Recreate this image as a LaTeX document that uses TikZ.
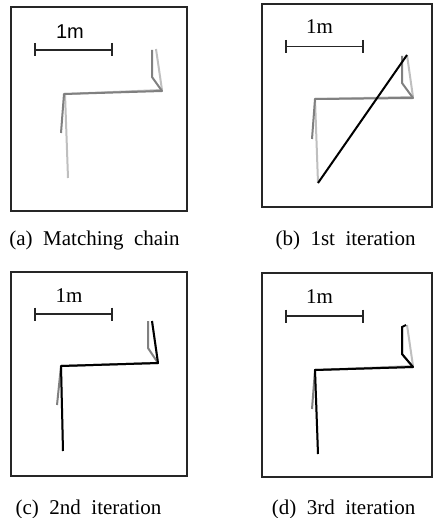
\documentclass[tikz,border=0pt]{standalone}
\usepackage{fontspec}
\setmainfont{Liberation Serif}
\newfontfamily\helv{Liberation Sans}
\tikzset{
  frame/.style={draw=black!85, line width=1.9pt},
  bar/.style={draw=black!85, line width=1.8pt},
  darkch/.style={draw=black!50, line width=2pt, line join=round},
  lightch/.style={draw=black!25, line width=2pt, line join=round},
  blackch/.style={draw=black, line width=2pt, line join=round},
  captext/.style={anchor=base, inner sep=0pt, font=\fontsize{21}{24}\selectfont},
  scaletext/.style={inner sep=0pt, font=\fontsize{21}{24}\selectfont}
}
\newcommand\wsp{\hspace{0.5em}}
\begin{document}
\begin{tikzpicture}[x=1pt,y=-1pt]
\useasboundingbox (0,0) rectangle (433,518);
% ---------- (a)
\draw[frame] (11,7) rectangle (187,211);
\draw[bar] (35,43) -- (35,56) (35,50) -- (112,50) (112,43) -- (112,56);
\node[scaletext, font=\helv\fontsize{20}{24}\selectfont] (ta) at (70,32) {1m};
\draw[lightch] (68,178) -- (65,94) -- (162,90) -- (156,49);
\draw[darkch] (61,133) -- (64,94) -- (162,91) -- (152,77) -- (152,50);
\node[captext] (ca) at (94.5,245) {(a)\wsp Matching\wsp chain};
% ---------- (b)
\draw[frame] (262,4) rectangle (432,207);
\draw[bar] (286,40) -- (286,53) (286,46.5) -- (363,46.5) (363,40) -- (363,53);
\node[scaletext] (tb) at (319.5,27) {1m};
\draw[lightch] (318,183) -- (315,99) -- (413,97) -- (407,55);
\draw[darkch] (312,139) -- (315,99) -- (413,98) -- (402,83) -- (402,56);
\draw[blackch] (318,183) -- (407,55);
\node[captext] (cb) at (345.5,245) {(b)\wsp 1st\wsp iteration};
% ---------- (c)
\draw[frame] (11,272) rectangle (187,476);
\draw[bar] (35,307.5) -- (35,320.5) (35,314) -- (112,314) (112,307.5) -- (112,320.5);
\node[scaletext] (tc) at (69,296) {1m};
\draw[lightch] (63,451) -- (61,366) -- (158,363) -- (152,321);
\draw[darkch] (57,405) -- (61,366) -- (158,363) -- (148,348) -- (148,321);
\draw[blackch] (63,451) -- (61,366) -- (158,363) -- (152,321);
\node[captext] (cc) at (88.5,514) {(c)\wsp 2nd\wsp iteration};
% ---------- (d)
\draw[frame] (262,273) rectangle (432,477);
\draw[bar] (286,309.5) -- (286,322.5) (286,316) -- (363,316) (363,309.5) -- (363,322.5);
\node[scaletext] (td) at (319.5,297) {1m};
\draw[lightch] (318,454) -- (315,370) -- (413,366) -- (407,325);
\draw[darkch] (312,409) -- (315,370) -- (413,367) -- (402,354) -- (402,326);
\draw[blackch] (318,454) -- (315,370) -- (413,367) -- (402,354) -- (402,327) -- (406,325);
\node[captext] (cd) at (343.5,514) {(d)\wsp 3rd\wsp iteration};
\end{tikzpicture}
\end{document}
